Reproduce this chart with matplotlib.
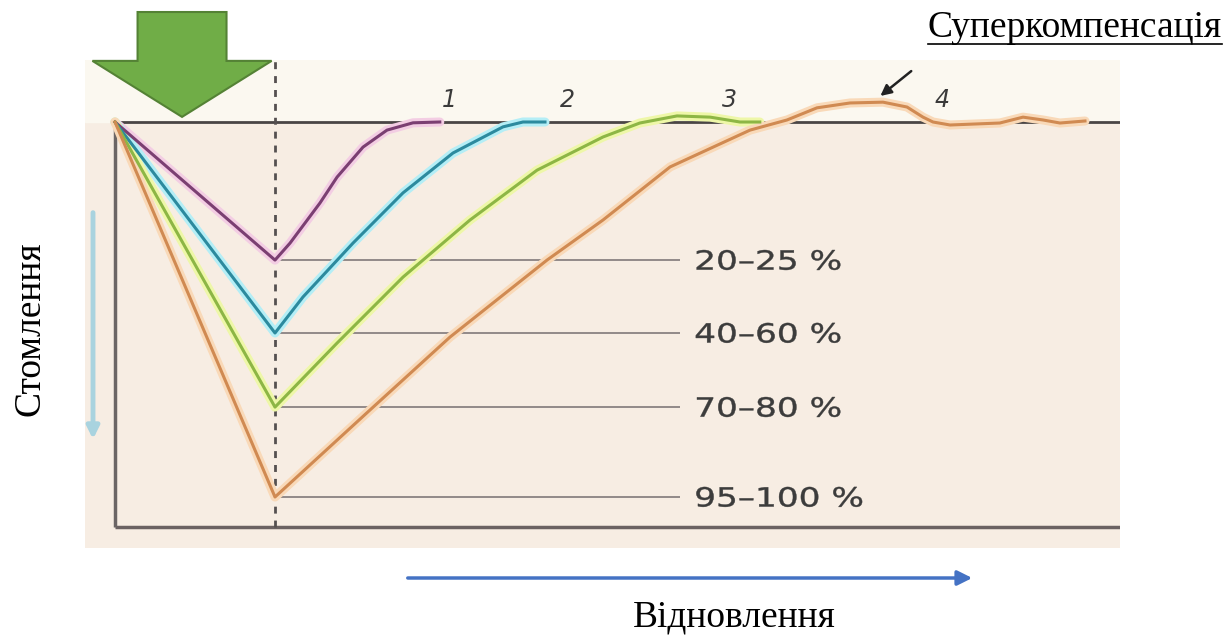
import matplotlib
matplotlib.use("Agg")
import matplotlib.pyplot as plt
from matplotlib.patches import FancyArrow, PathPatch
from matplotlib.textpath import TextPath
from matplotlib.font_manager import FontProperties
from matplotlib.transforms import Affine2D

# --- data: time (load ends at t=1) and fatigue level in % (0 = baseline) ---
t_1 = [0, 1.0, 1.094, 1.281, 1.388, 1.55, 1.7, 1.8625, 2.03]
y_1 = [0, -34.1, -29.9, -20.0, -13.6, -6.2, -2.0, -0.2, 0]

t_2 = [0, 1.0, 1.175, 1.4875, 1.8, 2.1125, 2.425, 2.55, 2.6875]
y_2 = [0, -52.1, -43.2, -29.9, -17.5, -7.65, -1.2, 0, 0]

t_3 = [0, 1.0, 1.3875, 1.8, 2.21875, 2.6375, 3.05, 3.28, 3.5125, 3.72, 3.906, 4.03]
y_3 = [0, -70.4, -54.6, -38.3, -24.2, -11.9, -3.7, -0.25, 1.5, 1.2, 0, 0]

t_4 = [0, 1.0, 1.594, 2.094, 2.7, 3.05, 3.469, 3.969, 4.2, 4.3875, 4.594, 4.8,
       4.95, 5.05, 5.1125, 5.219, 5.53, 5.675, 5.8, 5.906, 6.0625]
y_4 = [0, -92.6, -71.1, -53.1, -34.1, -24.2, -11.1, -2.0, 0.5, 3.5, 4.7, 4.9,
       3.7, 1.2, 0, -0.74, -0.25, 1.2, 0.5, -0.25, 0.25]

curves = [(t_1, y_1), (t_2, y_2), (t_3, y_3), (t_4, y_4)]
curve_names = ['1', '2', '3', '4']
name_pos = [2.09, 2.825, 3.84, 5.17]
level_labels = ['20–25 %', '40–60 %', '70–80 %', '95–100 %']

line_colors = ['#7b3f72', '#2c8a9e', '#8db645', '#d08a52']
glow_colors = ['#f3cde3', '#b4eef6', '#eef7a8', '#f9d9b8']

fig = plt.figure(figsize=(12.25, 6.35), dpi=100)
ax = fig.add_axes([85 / 1225, 1 - 548 / 635, 1035 / 1225, 488 / 635])
ax.set_xlim(-0.1875, 6.28125)
ax.set_ylim(-105.19, 15.31)
ax.axis('off')
ax.add_patch(plt.Rectangle((-0.1875, -105.19), 6.46875, 120.5, color='#f7ede3', zorder=0))
ax.axhspan(0, 15.31, color='#fbf8f0', zorder=0)

# frame lines
ax.hlines(0, 0, 6.28125, color='#4a4545', lw=2, zorder=3)
ax.hlines(-100, 0, 6.28125, color='#6b6262', lw=2.5, zorder=3)
ax.vlines(0, -100, 0, color='#6b6565', lw=2.5, zorder=3)
ax.vlines(1, -100, 15.31, color='#555050', lw=2, linestyles=(0, (2.5, 2.5)), zorder=3)

# curves with soft glow
for (t, y), g in zip(curves, glow_colors):
    ax.plot(t, y, color=g, lw=6.5, solid_capstyle='round', zorder=4)
for (t, y), c in zip(curves, line_colors):
    ax.plot(t, y, color=c, lw=2.2, solid_joinstyle='round', zorder=5)

# level markers
mins = [min(y) for t, y in curves]
ax.hlines(mins, 1, 3.53, color='#8a8282', lw=1.3, zorder=3)

# the labels use a wide lettering: draw them as horizontally stretched text paths
prop = FontProperties(family='DejaVu Sans')
size_px = 19 * 100 / 72
for m, lab in zip(mins, level_labels):
    tp = TextPath((0, 0), lab, size=size_px, prop=prop)
    x0, y0 = ax.transData.transform((3.62, m))
    tr = Affine2D().scale(1.3, 1.0).translate(x0, y0 - size_px * 0.36)
    ax.add_patch(PathPatch(tp, transform=tr, facecolor='#3c3c3c', edgecolor='#3c3c3c',
                           lw=0.3, zorder=6))

for n, x in zip(curve_names, name_pos):
    ax.text(x, 5.4, n, fontsize=17, fontstyle='italic', color='#3a3a3a',
            ha='center', va='center', zorder=6)

# supercompensation pointer
ax.annotate('', xy=(4.77, 6.0), xytext=(4.99, 13.0),
            arrowprops=dict(arrowstyle='-|>', color='#222222', lw=1.8,
                            mutation_scale=16), zorder=6)

# light blue fatigue arrow on the left
ax.annotate('', xy=(-0.1375, -79), xytext=(-0.1375, -21.7),
            arrowprops=dict(arrowstyle='-|>', color='#a9d3df', lw=3.5,
                            mutation_scale=18), zorder=2)

# big green load arrow
ax.add_patch(FancyArrow(0.419, 27.16, 0, -25.9, width=0.556, head_width=1.12,
                        head_length=13.83, length_includes_head=True,
                        facecolor='#70ad47', edgecolor='#548235', lw=1.5,
                        clip_on=False, zorder=7))

# texts outside the panel
serif = 'Liberation Serif'
title = fig.text(1222 / 1225, 1 - 37 / 635, 'Суперкомпенсація', family=serif,
                 fontsize=27, ha='right', va='baseline', color='black')
fig.text(734 / 1225, 1 - 627 / 635, 'Відновлення', family=serif, fontsize=27,
         ha='center', va='baseline', color='black')
fig.text(30 / 1225, 1 - 329 / 635, 'Стомлення', family=serif, fontsize=27,
         rotation=90, ha='center', va='center', color='black')

# underline the title
fig.canvas.draw()
bb = title.get_window_extent().transformed(fig.transFigure.inverted())
fig.add_artist(plt.Line2D([bb.x0, bb.x1], [1 - 44 / 635] * 2, color='black',
                          lw=1.2, transform=fig.transFigure))

# recovery arrow
ax.annotate('', xy=(975 / 1225, 1 - 578 / 635), xytext=(405 / 1225, 1 - 578 / 635),
            xycoords='figure fraction', textcoords='figure fraction',
            arrowprops=dict(arrowstyle='-|>', color='#4472c4', lw=2.5,
                            mutation_scale=22))

fig.savefig('out.png', dpi=100, facecolor='white')
